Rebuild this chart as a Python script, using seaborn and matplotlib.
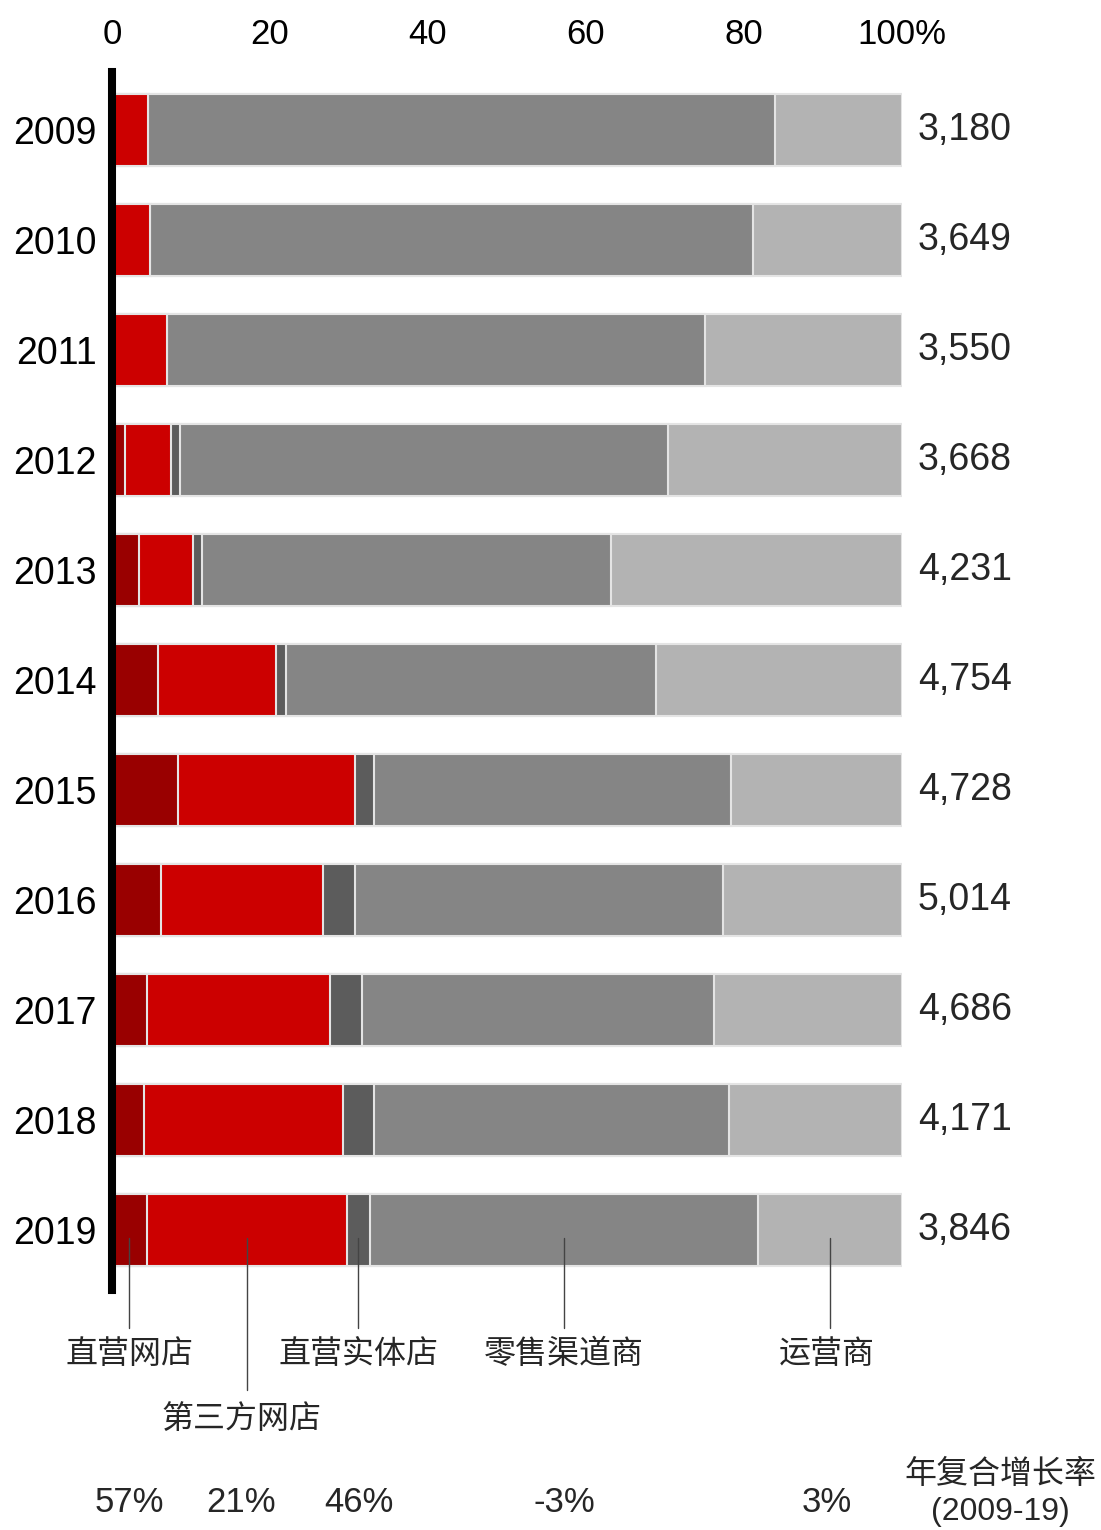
import matplotlib
matplotlib.use("Agg")
import matplotlib.pyplot as plt
import seaborn as sns
import numpy as np
import pandas as pd

# Channel shares of annual shipments (%), 2009-2019
years = ["2009", "2010", "2011", "2012", "2013", "2014", "2015", "2016", "2017", "2018", "2019"]
direct_online = [0.0, 0.0, 0.0, 1.6, 3.4, 5.8, 8.4, 6.2, 4.4, 4.1, 4.4]
third_party_online = [4.6, 4.8, 6.9, 5.9, 6.9, 15.0, 22.4, 20.5, 23.2, 25.1, 25.3]
direct_stores = [0.0, 0.0, 0.0, 1.1, 1.1, 1.2, 2.4, 4.1, 4.0, 4.0, 3.0]
retail_dealers = [79.3, 76.4, 68.1, 61.8, 51.8, 46.9, 45.1, 46.5, 44.6, 44.9, 49.1]
operators = [16.1, 18.8, 25.0, 29.6, 36.8, 31.1, 21.7, 22.7, 23.8, 21.9, 18.2]
totals = ["3,180", "3,649", "3,550", "3,668", "4,231", "4,754",
          "4,728", "5,014", "4,686", "4,171", "3,846"]

channels = ["直营网店", "第三方网店", "直营实体店", "零售渠道商", "运营商"]
cagr = ["57%", "21%", "46%", "-3%", "3%"]
colors = ["#990000", "#CC0000", "#5C5C5C", "#858585", "#B3B3B3"]

x_ticks = [0, 20, 40, 60, 80, 100]
x_tick_labels = ["0", "20", "40", "60", "80", "100%"]

sns.set_theme(style="white")
plt.rcParams["font.family"] = ["Liberation Sans", "Noto Sans CJK SC", "DejaVu Sans"]

W, H = 1101, 1530
fig = plt.figure(figsize=(W / 100, H / 100), dpi=100)
ax = fig.add_axes([112 / W, 1 - 1290 / H, 790 / W, (1290 - 72) / H])

shares = np.array([direct_online, third_party_online, direct_stores,
                   retail_dealers, operators])
cum = np.cumsum(shares, axis=0)

# stacked bars: draw cumulative totals from the outermost segment inwards
for k in range(len(channels) - 1, -1, -1):
    df = pd.DataFrame({"year": years, "value": cum[k]})
    sns.barplot(data=df, x="value", y="year", order=years, orient="h",
                color=colors[k], saturation=1, width=0.65, errorbar=None,
                edgecolor="#E4E4E4", linewidth=1.5, ax=ax)

ax.set_xlim(0, 100)
ax.set_ylim(10.545, -0.527)
ax.set_xlabel("")
ax.set_ylabel("")

ax.xaxis.tick_top()
ax.set_xticks(x_ticks)
ax.set_xticklabels(x_tick_labels)
ax.tick_params(axis="x", length=0, pad=15, labelsize=25, colors="black")
ax.tick_params(axis="y", length=0, pad=11, labelsize=27, colors="black")

for side in ["top", "right", "bottom"]:
    ax.spines[side].set_visible(False)
ax.spines["left"].set_linewidth(5.8)
ax.spines["left"].set_color("black")

# annual totals on the right
for i, t in enumerate(totals):
    ax.text(102.0, i, t, va="center", ha="left", fontsize=27, clip_on=False)

# leader lines from the 2019 bar to the channel names
last = len(years) - 1
starts = cum[:, last] - shares[:, last]
mids = starts + shares[:, last] / 2
label_shift = [0.0, -0.7, 0.0, 0.0, -0.4]
label_rows = [11.136, 11.727, 11.136, 11.136, 11.136]
line_ends = [10.89, 11.45, 10.89, 10.89, 10.89]
for k, name in enumerate(channels):
    ax.plot([mids[k], mids[k]], [10.07, line_ends[k]], color="#444444",
            lw=1.0, clip_on=False, zorder=5)
    ax.text(mids[k] + label_shift[k], label_rows[k], name, ha="center",
            va="center", fontsize=23, clip_on=False)
    ax.text(mids[k] + label_shift[k], 12.48, cagr[k], ha="center",
            va="center", fontsize=25, clip_on=False)

fig.text(1000 / W, 1 - 1475 / H, "年复合增长率", ha="center", va="center", fontsize=23)
fig.text(1000 / W, 1 - 1512 / H, "(2009-19)", ha="center", va="center", fontsize=23)

fig.savefig("out.png", dpi=100)
